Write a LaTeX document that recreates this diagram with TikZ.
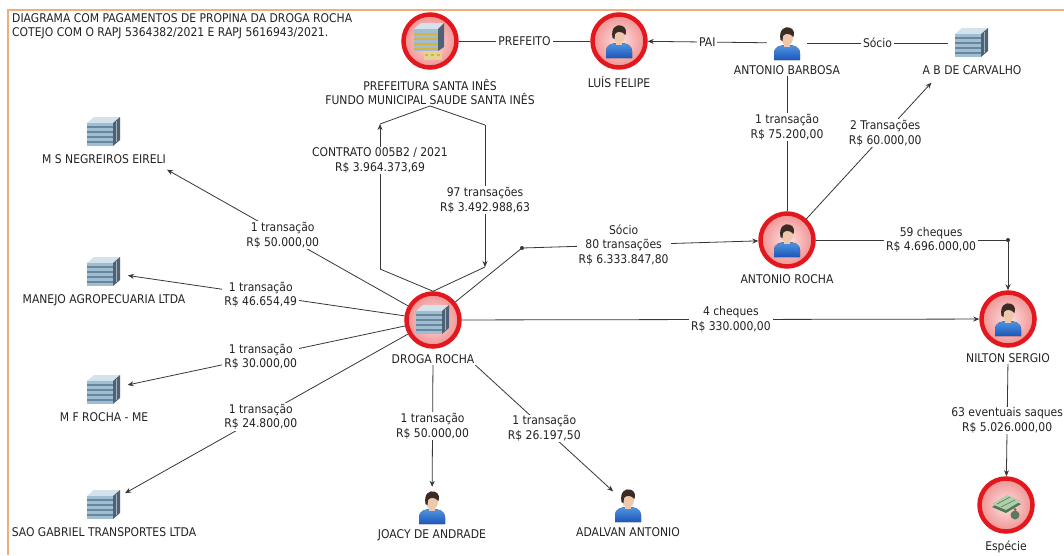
\documentclass[tikz,border=0pt]{standalone}
\usepackage{fontspec}
\setmainfont{DejaVu Sans}[FakeStretch=0.9]
\usetikzlibrary{positioning,arrows.meta}

\definecolor{ringred}{RGB}{226,24,30}
\definecolor{pinkin}{RGB}{253,226,226}
\definecolor{pinkout}{RGB}{241,146,146}
\definecolor{linkgray}{RGB}{55,55,55}
\definecolor{txtgray}{RGB}{35,35,35}
\definecolor{frameorange}{RGB}{244,172,124}
\definecolor{bldtop}{RGB}{212,226,236}
\definecolor{bldfront}{RGB}{160,190,210}
\definecolor{bldstripe}{RGB}{104,134,158}
\definecolor{bldside}{RGB}{78,98,118}
\definecolor{gold}{RGB}{214,178,70}
\definecolor{hair}{RGB}{58,44,36}
\definecolor{skin}{RGB}{238,200,172}
\definecolor{shirt}{RGB}{28,86,186}
\definecolor{shirtlight}{RGB}{80,150,225}
\definecolor{cashdark}{RGB}{80,120,84}
\definecolor{cashlight}{RGB}{176,206,170}

\tikzset{
  redmark/.style={circle,draw=ringred,line width=4.5pt,inner color=pinkin,outer color=pinkout,minimum size=53pt,inner sep=0pt},
  plainent/.style={circle,minimum size=40pt,inner sep=0pt},
  bldent/.style={circle,minimum size=48pt,inner sep=0pt},
  entlabel/.style={text=txtgray,align=center,inner sep=1pt},
  linklabel/.style={fill=white,text=txtgray,align=center,inner xsep=2pt,inner ysep=1pt},
  link/.style={draw=linkgray,line width=0.8pt},
  joint/.style={circle,fill=linkgray,inner sep=0pt,minimum size=4pt},
  building/.pic={
    \fill[bldtop] (-17,-9) -- (-10,-15) -- (16,-15) -- (9,-9) -- cycle;
    \fill[bldside] (9,-9) -- (16,-15) -- (16,8) -- (9,14) -- cycle;
    \fill[bldfront] (-17,-9) rectangle (9,14);
    \foreach \s in {-6,-1,4,9} \fill[bldstripe] (-17,\s) rectangle (9,\s+2);
    \draw[bldside!50!white,line width=0.6pt] (12.5,-11) -- (12.5,10);
  },
  cityhall/.pic={
    \fill[bldtop] (-16,-12) -- (-9,-18) -- (14,-18) -- (8,-12) -- cycle;
    \fill[bldside] (8,-12) -- (14,-18) -- (14,6) -- (8,10) -- cycle;
    \fill[bldfront] (-16,-12) rectangle (8,10);
    \foreach \s in {-8,-3,2,7} \fill[gold] (-16,\s) rectangle (8,\s+2);
    \fill[gold!60!white] (-6,10) rectangle (12,19);
    \foreach \s in {-3,3,9} \fill[gold] (\s-2,13) rectangle (\s+1,15);
  },
  person/.pic={
    \fill[top color=shirtlight,bottom color=shirt] (-13,17) -- (-13,10) .. controls (-13,4) and (-7,2) .. (0,2) .. controls (7,2) and (13,4) .. (13,10) -- (13,17) -- cycle;
    \fill[skin] (-3,-1) rectangle (3,4);
    \fill[skin] (0,-5) ellipse [x radius=6, y radius=7.5];
    \fill[hair] (-6.5,-3) .. controls (-8.5,-14) and (-2,-16.5) .. (2,-15.5) .. controls (7.5,-14.5) and (7.5,-9) .. (6.4,-6) .. controls (3,-10) and (-2,-10) .. (-4,-7) -- (-4.5,-2) -- cycle;
  },
  cash/.pic={
    \fill[cashdark] (-14,2) -- (1,-7) -- (15,-1) -- (0,8) -- cycle;
    \fill[cashlight] (-14,-1) -- (1,-10) -- (15,-4) -- (0,5) -- cycle;
    \draw[cashdark,line width=0.6pt] (-9,-1) -- (4,-8) (-5,2) -- (9,-5);
    \fill[cashdark!80!gray] (9,10) circle (4.5);
    \fill[cashdark] (9,4.5) circle (1.5);
  },
}

\begin{document}
\begin{tikzpicture}[
    x=1pt, y=-1pt,
    font=\fontsize{12}{14.5}\selectfont,
    >={Stealth[length=6pt,width=5pt]},
  ]
  \useasboundingbox[fill=white] (0,0) rectangle (1064,555);
  \draw[frameorange,line width=1.5pt] (8,555) -- (8,10) -- (1064,10);

  \node[entlabel,anchor=north west,align=left] (title) at (11,12)
    {DIAGRAMA COM PAGAMENTOS DE PROPINA DA DROGA ROCHA\\COTEJO COM O RAPJ 5364382/2021 E RAPJ 5616943/2021.};

  % marked entities
  \node[redmark] (pref) at (430,41) {};
  \pic at (pref) {cityhall};
  \node[entlabel,below=8pt of pref] (prefL) {PREFEITURA SANTA INÊS\\FUNDO MUNICIPAL SAUDE SANTA INÊS};
  \node[redmark] (luis) at (619,41) {};
  \pic at (luis) {person};
  \node[entlabel,below=5pt of luis] (luisL) {LUÍS FELIPE};
  \node[redmark] (droga) at (433,320) {};
  \pic at (droga) {building};
  \node[entlabel,below=5pt of droga] (drogaL) {DROGA ROCHA};
  \node[redmark] (arocha) at (787,240) {};
  \pic at (arocha) {person};
  \node[entlabel,below=5pt of arocha] (arochaL) {ANTONIO ROCHA};
  \node[redmark] (nilton) at (1008,319) {};
  \pic at (nilton) {person};
  \node[entlabel,below=5pt of nilton] (niltonL) {NILTON SERGIO};
  \node[redmark] (especie) at (1006,505) {};
  \pic at (especie) {cash};
  \node[entlabel,below=6pt of especie] (especieL) {Espécie};

  % other entities
  \node[plainent] (abarbosa) at (787,43) {};
  \pic at (abarbosa) {person};
  \node[entlabel,below=1pt of abarbosa] (abarbosaL) {ANTONIO BARBOSA};
  \node[bldent] (abcarv) at (972,43) {};
  \pic at (abcarv) {building};
  \node[entlabel,below=-3pt of abcarv] (abcarvL) {A B DE CARVALHO};
  \node[bldent] (msneg) at (104,132) {};
  \pic at (msneg) {building};
  \node[entlabel,below=-3pt of msneg] (msnegL) {M S NEGREIROS EIRELI};
  \node[bldent] (manejo) at (104,272) {};
  \pic at (manejo) {building};
  \node[entlabel,below=-3pt of manejo] (manejoL) {MANEJO AGROPECUARIA LTDA};
  \node[bldent] (mfrocha) at (104,390) {};
  \pic at (mfrocha) {building};
  \node[entlabel,below=-3pt of mfrocha] (mfrochaL) {M F ROCHA - ME};
  \node[bldent] (saogab) at (104,505) {};
  \pic at (saogab) {building};
  \node[entlabel,below=-3pt of saogab] (saogabL) {SAO GABRIEL TRANSPORTES LTDA};
  \node[plainent] (joacy) at (432,507) {};
  \pic at (joacy) {person};
  \node[entlabel,below=1pt of joacy] (joacyL) {JOACY DE ANDRADE};
  \node[plainent] (adalvan) at (628,505) {};
  \pic at (adalvan) {person};
  \node[entlabel,below=1pt of adalvan] (adalvanL) {ADALVAN ANTONIO};

  % bends of routed links
  \coordinate (ctrbot) at (380,269);
  \coordinate (ctrtop) at (380,124);
  \coordinate (paytop) at (485,125);
  \coordinate (paybot) at (485,267);
  \coordinate (sociobend) at (522,248);

  % links
  \draw[link] (pref) -- node[linklabel]{PREFEITO} (luis);
  \draw[link,->] (abarbosa) -- node[linklabel]{PAI} (luis);
  \draw[link] (abarbosa) -- node[linklabel]{Sócio} (abcarv);
  \draw[link] (abarbosaL) -- node[linklabel,pos=0.38]{1 transação\\R\$ 75.200,00} (arocha);
  \draw[link,->] (arocha) -- node[linklabel,pos=0.63]{2 Transações\\R\$ 60.000,00} ([xshift=10pt,yshift=-7pt]abcarvL.south west);
  \draw[link,->] (arocha) -- node[linklabel,pos=0.6]{59 cheques\\R\$ 4.696.000,00} (arocha -| nilton) node[joint]{} -- (nilton);
  \draw[link,->] (droga) -- (sociobend) node[joint]{} -- node[linklabel,pos=0.43]{Sócio\\80 transações\\R\$ 6.333.847,80} (arocha);
  \draw[link,->] (droga) -- node[linklabel,pos=0.52]{4 cheques\\R\$ 330.000,00} (nilton);
  \draw[link,->] (niltonL) -- node[linklabel]{63 eventuais saques\\R\$ 5.026.000,00} (especie);

  \draw[link] (droga.north) -- (ctrbot);
  \draw[link,->] (ctrbot) -- node[linklabel,pos=0.75]{CONTRATO 005B2 / 2021\\R\$ 3.964.373,69} (ctrtop);
  \draw[link] (ctrtop) -- (prefL.south);
  \draw[link] (prefL.south) -- (paytop);
  \draw[link,->] (paytop) -- node[linklabel,pos=0.53]{97 transações\\R\$ 3.492.988,63} (paybot);
  \draw[link] (paybot) -- (droga.north);

  \draw[link,->] (droga) -- node[linklabel,pos=0.52]{1 transação\\R\$ 50.000,00} ([yshift=-5pt]msnegL.south east);
  \draw[link,->] (droga) -- node[linklabel,pos=0.52]{1 transação\\R\$ 46.654,49} (manejo);
  \draw[link,->] (droga) -- node[linklabel,pos=0.52]{1 transação\\R\$ 30.000,00} (mfrocha);
  \draw[link,->] (droga) -- node[linklabel,pos=0.52]{1 transação\\R\$ 24.800,00} (saogab);
  \draw[link,->] (drogaL) -- node[linklabel]{1 transação\\R\$ 50.000,00} (joacy);
  \draw[link,->] (drogaL.south east) -- node[linklabel]{1 transação\\R\$ 26.197,50} (adalvan);
\end{tikzpicture}
\end{document}
